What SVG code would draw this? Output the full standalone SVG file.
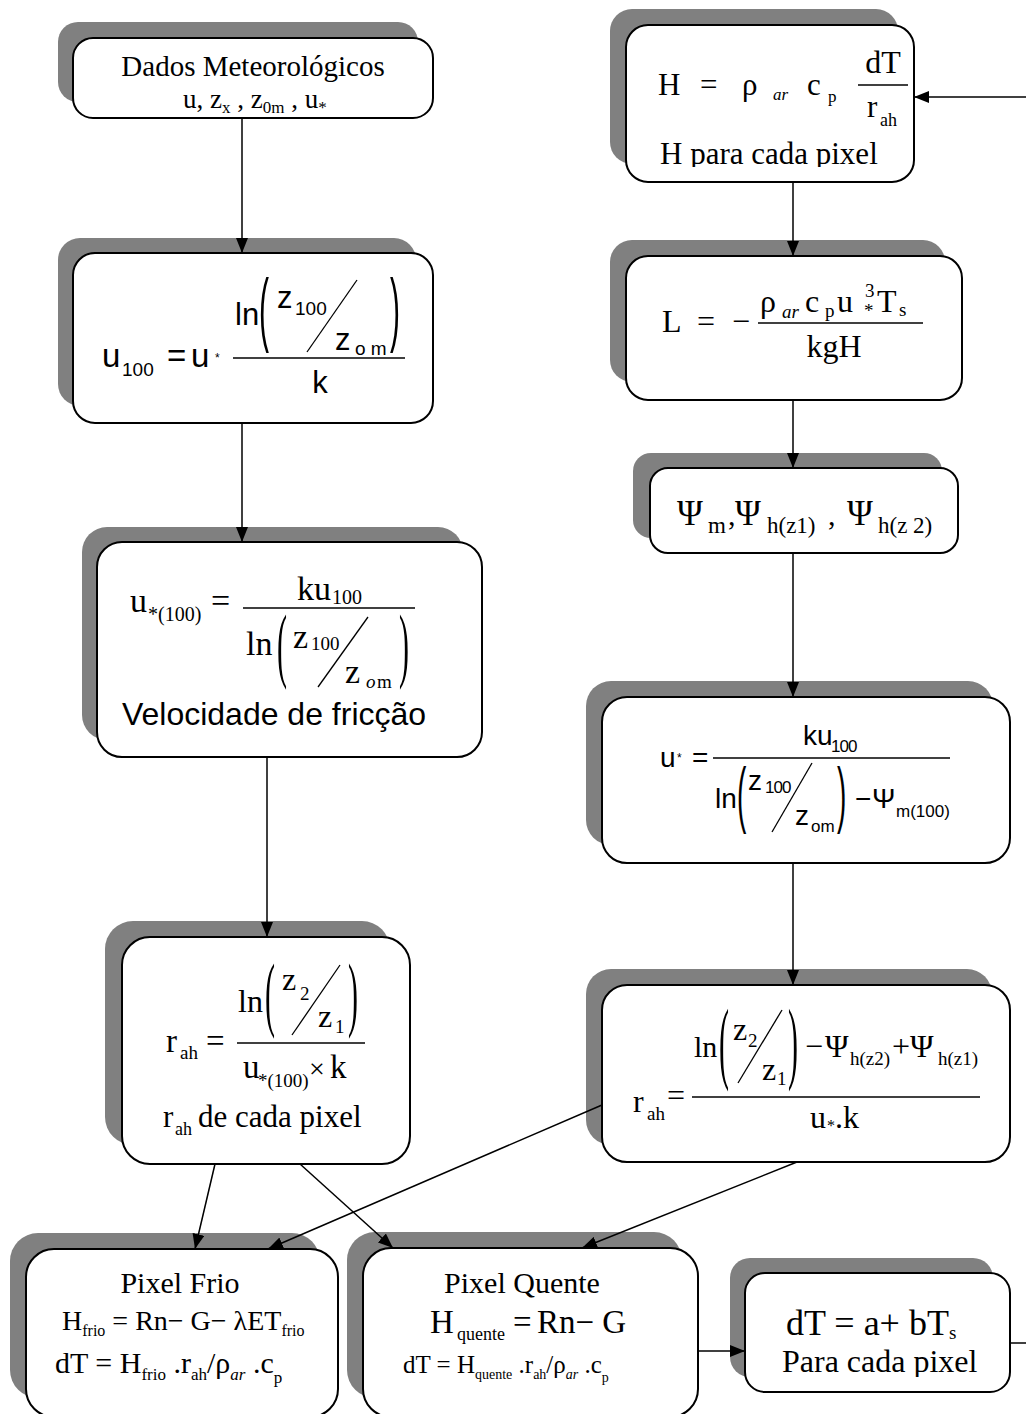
<svg xmlns="http://www.w3.org/2000/svg" width="1026" height="1414" viewBox="0 0 1026 1414">
<style>
.sh{fill:#808080}
.bx{fill:#fff;stroke:#000;stroke-width:2}
.cn{stroke:#000;stroke-width:1.5;fill:none}
.ar{marker-end:url(#arr)}
.s{font-family:"Liberation Serif","Times New Roman",serif;fill:#000}
.a{font-family:"Liberation Sans",Arial,sans-serif;fill:#000}
.fl{stroke:#000;stroke-width:1.3}
</style>
<defs>
<marker id="arr" markerUnits="userSpaceOnUse" markerWidth="15" markerHeight="12" refX="15" refY="6" orient="auto">
<path d="M0,0 L15,6 L0,12 z" fill="#000"/>
</marker>
<clipPath id="c1"><rect x="626" y="25" width="288" height="142"/></clipPath>
<clipPath id="c2"><rect x="745" y="1273" width="265" height="104"/></clipPath>
</defs>
<rect width="1026" height="1414" fill="#fff"/>

<g id="n1">
<rect class="sh" x="58" y="22" width="360" height="80" rx="20"/>
<rect class="bx" x="73" y="38" width="360" height="80" rx="20"/>
<text class="s" x="253" y="76" font-size="29" text-anchor="middle">Dados Meteorológicos</text>
<text class="s" x="183" y="108" font-size="27">u, z<tspan font-size="17" dy="5">x</tspan><tspan dy="-5"> , z</tspan><tspan font-size="17" dy="5">0m</tspan><tspan dy="-5"> , u</tspan><tspan font-size="17" dy="5">*</tspan></text>
</g>

<g id="n2">
<rect class="sh" x="58" y="238" width="358" height="168" rx="22"/>
<rect class="bx" x="73" y="253" width="360" height="170" rx="22"/>
<text class="a" font-size="33"><tspan x="102" y="367">u</tspan><tspan x="122" y="376" font-size="19">100</tspan><tspan x="167" y="367">=</tspan><tspan x="191" y="367">u</tspan><tspan x="215" y="362" font-size="12">*</tspan></text>
<line class="fl" x1="233" y1="358" x2="405" y2="358"/>
<text class="a" font-size="31"><tspan x="235" y="325">ln</tspan><tspan x="277" y="308">z</tspan><tspan x="295" y="315" font-size="19">100</tspan><tspan x="335" y="350">z</tspan><tspan x="355" y="355" font-size="19">o m</tspan></text>
<text class="a" font-size="30" transform="translate(259,336) scale(1,2.7)">(</text>
<text class="a" font-size="30" transform="translate(390,336) scale(1,2.7)">)</text>
<line class="fl" x1="357" y1="280" x2="307" y2="352"/>
<text class="a" x="320" y="393" font-size="31" text-anchor="middle">k</text>
</g>

<g id="n3">
<rect class="sh" x="82" y="527" width="381" height="213" rx="25"/>
<rect class="bx" x="97" y="542" width="385" height="215" rx="25"/>
<text class="s" font-size="34"><tspan x="130" y="612">u</tspan><tspan x="148" y="621" font-size="20">*(100)</tspan><tspan x="211" y="612">=</tspan><tspan x="297" y="600">ku</tspan><tspan x="332" y="604" font-size="20">100</tspan></text>
<line class="fl" x1="243" y1="608" x2="415" y2="608"/>
<text class="s" font-size="34"><tspan x="246" y="655">ln</tspan><tspan x="293" y="648">z</tspan><tspan x="311" y="650" font-size="19">100</tspan><tspan x="345" y="683">z</tspan><tspan x="366" y="688" font-size="19" font-style="italic">o</tspan><tspan x="377" y="688" font-size="19">m</tspan></text>
<text class="s" font-size="30" transform="translate(277,672) scale(1,2.75)">(</text>
<text class="s" font-size="30" transform="translate(399,672) scale(1,2.75)">)</text>
<line class="fl" x1="368" y1="617" x2="318" y2="687"/>
<text class="a" x="274" y="725" font-size="32" text-anchor="middle">Velocidade de fricção</text>
</g>

<g id="n4">
<rect class="sh" x="105" y="921" width="285" height="224" rx="28"/>
<rect class="bx" x="122" y="937" width="288" height="227" rx="28"/>
<text class="s" font-size="32"><tspan x="238" y="1012">ln</tspan><tspan x="282" y="990">z</tspan><tspan x="300" y="1000" font-size="19">2</tspan><tspan x="318" y="1027">z</tspan><tspan x="335" y="1033" font-size="19">1</tspan></text>
<text class="s" font-size="30" transform="translate(265,1021) scale(1,2.75)">(</text>
<text class="s" font-size="30" transform="translate(348,1021) scale(1,2.75)">)</text>
<line class="fl" x1="340" y1="965" x2="292" y2="1035"/>
<text class="s" font-size="33"><tspan x="166" y="1052">r</tspan><tspan x="180" y="1059" font-size="19">ah</tspan><tspan x="206" y="1052">=</tspan><tspan x="243" y="1078">u</tspan><tspan x="258" y="1087" font-size="19">*(100)</tspan><tspan x="309" y="1078" font-size="28">×</tspan><tspan x="330" y="1078">k</tspan></text>
<line class="fl" x1="237" y1="1043" x2="365" y2="1043"/>
<text class="s" font-size="31"><tspan x="163" y="1127">r</tspan><tspan x="175" y="1135" font-size="18">ah</tspan><tspan x="198" y="1127">de cada pixel</tspan></text>
</g>

<g id="n5">
<rect class="sh" x="610" y="9" width="288" height="155" rx="22"/>
<rect class="bx" x="626" y="25" width="288" height="157" rx="22"/>
<text class="s" font-size="31"><tspan x="658" y="95">H</tspan><tspan x="700" y="95">=</tspan><tspan x="742" y="95">ρ</tspan><tspan x="773" y="100" font-size="17" font-style="italic">ar</tspan><tspan x="807" y="95">c</tspan><tspan x="828" y="102" font-size="17">p</tspan></text>
<text class="s" x="883" y="73" font-size="32" text-anchor="middle">dT</text>
<line class="fl" x1="858" y1="85" x2="908" y2="85"/>
<text class="s" font-size="31"><tspan x="867" y="117">r</tspan><tspan x="880" y="126" font-size="18">ah</tspan></text>
<text class="s" x="660" y="164" font-size="31" clip-path="url(#c1)">H para cada pixel</text>
</g>

<g id="n6">
<rect class="sh" x="610" y="240" width="335" height="142" rx="22"/>
<rect class="bx" x="626" y="256" width="336" height="144" rx="22"/>
<text class="s" font-size="32"><tspan x="662" y="332">L</tspan><tspan x="697" y="332">=</tspan><tspan x="732" y="332">−</tspan><tspan x="760" y="312">ρ</tspan><tspan x="782" y="318" font-size="19" font-style="italic">ar</tspan><tspan x="805" y="312">c</tspan><tspan x="825" y="317" font-size="19">p</tspan><tspan x="837" y="312">u</tspan><tspan x="865" y="297" font-size="19">3</tspan><tspan x="864" y="317" font-size="19">*</tspan><tspan x="877" y="312">T</tspan><tspan x="899" y="316" font-size="19">s</tspan></text>
<line class="fl" x1="758" y1="323" x2="923" y2="323"/>
<text class="s" x="834" y="357" font-size="32" text-anchor="middle">kgH</text>
</g>

<g id="n7">
<rect class="sh" x="633" y="453" width="309" height="85" rx="18"/>
<rect class="bx" x="650" y="468" width="308" height="85" rx="18"/>
<text class="s" font-size="35"><tspan x="677" y="525">Ψ</tspan><tspan x="708" y="533" font-size="23">m</tspan><tspan x="728" y="525" font-size="30">,</tspan><tspan x="735" y="525">Ψ</tspan><tspan x="767" y="533" font-size="23">h(z1)</tspan><tspan x="828" y="525" font-size="30">,</tspan><tspan x="847" y="525">Ψ</tspan><tspan x="878" y="533" font-size="23">h(z 2)</tspan></text>
</g>

<g id="n8">
<rect class="sh" x="586" y="681" width="407" height="164" rx="25"/>
<rect class="bx" x="602" y="697" width="408" height="166" rx="25"/>
<text class="a" font-size="28"><tspan x="660" y="767">u</tspan><tspan x="677" y="762" font-size="12">*</tspan><tspan x="692" y="767">=</tspan><tspan x="803" y="745">ku</tspan><tspan x="831" y="752" font-size="17" letter-spacing="-1">100</tspan></text>
<line class="fl" x1="713" y1="758" x2="950" y2="758"/>
<text class="a" font-size="28"><tspan x="715" y="808">ln</tspan><tspan x="748" y="790">z</tspan><tspan x="765" y="793" font-size="17" letter-spacing="-1">100</tspan><tspan x="795" y="825">z</tspan><tspan x="811" y="832" font-size="17">om</tspan><tspan x="855" y="808">−</tspan><tspan x="872" y="808">Ψ</tspan><tspan x="896" y="817" font-size="17">m(100)</tspan></text>
<text class="a" font-size="28" transform="translate(737,819) scale(1,2.6)">(</text>
<text class="a" font-size="28" transform="translate(837,819) scale(1,2.6)">)</text>
<line class="fl" x1="812" y1="763" x2="772" y2="832"/>
</g>

<g id="n9">
<rect class="sh" x="586" y="969" width="406" height="176" rx="25"/>
<rect class="bx" x="602" y="985" width="408" height="177" rx="25"/>
<text class="s" font-size="32"><tspan x="633" y="1112">r</tspan><tspan x="647" y="1120" font-size="19">ah</tspan><tspan x="667" y="1106">=</tspan><tspan x="694" y="1057" font-size="30">ln</tspan><tspan x="733" y="1040">z</tspan><tspan x="748" y="1047" font-size="19">2</tspan><tspan x="762" y="1080">z</tspan><tspan x="777" y="1085" font-size="19">1</tspan><tspan x="805" y="1057">−</tspan><tspan x="825" y="1057">Ψ</tspan><tspan x="850" y="1065" font-size="19">h(z2)</tspan><tspan x="892" y="1057">+</tspan><tspan x="910" y="1057">Ψ</tspan><tspan x="938" y="1065" font-size="19">h(z1)</tspan></text>
<text class="s" font-size="30" transform="translate(719,1072) scale(1,3)">(</text>
<text class="s" font-size="30" transform="translate(788,1072) scale(1,3)">)</text>
<line class="fl" x1="782" y1="1010" x2="738" y2="1083"/>
<line class="fl" x1="692" y1="1097" x2="980" y2="1097"/>
<text class="s" font-size="32"><tspan x="810" y="1128">u</tspan><tspan x="827" y="1131" font-size="16">*</tspan><tspan x="835" y="1128">.k</tspan></text>
</g>

<g id="n10">
<rect class="sh" x="10" y="1233" width="310" height="165" rx="28"/>
<rect class="bx" x="26" y="1249" width="312" height="168" rx="28"/>
<text class="s" x="180" y="1293" font-size="30" text-anchor="middle">Pixel Frio</text>
<text class="s" x="62" y="1330" font-size="28">H<tspan font-size="16" dy="6">frio</tspan><tspan dy="-6"> = Rn− G− λET</tspan><tspan font-size="16" dy="6">frio</tspan></text>
<text class="s" x="55" y="1373" font-size="30">dT = H<tspan font-size="17" dy="7">frio</tspan><tspan dy="-7"> .r</tspan><tspan font-size="17" dy="7">ah</tspan><tspan dy="-7">/ρ</tspan><tspan font-size="17" dy="7" font-style="italic">ar</tspan><tspan dy="-7"> .c</tspan><tspan font-size="17" dy="10">p</tspan></text>
</g>

<g id="n11">
<rect class="sh" x="347" y="1232" width="335" height="166" rx="28"/>
<rect class="bx" x="363" y="1248" width="335" height="169" rx="28"/>
<text class="s" x="522" y="1293" font-size="30" text-anchor="middle">Pixel Quente</text>
<text class="s" font-size="33"><tspan x="430" y="1333">H</tspan><tspan x="457" y="1340" font-size="18">quente</tspan><tspan x="513" y="1333">=</tspan><tspan x="537" y="1333">Rn− G</tspan></text>
<text class="s" x="403" y="1373" font-size="25">dT = H<tspan font-size="14" dy="6">quente</tspan><tspan dy="-6"> .r</tspan><tspan font-size="14" dy="6">ah</tspan><tspan dy="-6">/ρ</tspan><tspan font-size="14" dy="6" font-style="italic">ar</tspan><tspan dy="-6"> .c</tspan><tspan font-size="14" dy="9">p</tspan></text>
</g>

<g id="n12">
<rect class="sh" x="730" y="1258" width="263" height="119" rx="20"/>
<rect class="bx" x="745" y="1273" width="265" height="119" rx="20"/>
<text class="s" x="786" y="1335" font-size="36">dT = a+ bT<tspan font-size="19" dy="4">s</tspan></text>
<text class="s" x="782" y="1372" font-size="32" clip-path="url(#c2)">Para cada pixel</text>
</g>

<g id="connectors">
<path class="cn ar" d="M242,118 V253"/>
<path class="cn ar" d="M242,423 V542"/>
<path class="cn ar" d="M267,757 V937"/>
<path class="cn ar" d="M1026,97 H914"/>
<path class="cn ar" d="M793,182 V256"/>
<path class="cn ar" d="M793,400 V468"/>
<path class="cn ar" d="M793,553 V697"/>
<path class="cn ar" d="M793,863 V985"/>
<path class="cn ar" d="M215,1164 L195,1249"/>
<path class="cn ar" d="M300,1164 L393,1248"/>
<path class="cn ar" d="M602,1105 L268,1249"/>
<path class="cn ar" d="M797,1162 L582,1248"/>
<path class="cn ar" d="M698,1351 H745"/>
<path class="cn" d="M1010,1343 H1026"/>
</g>
</svg>
